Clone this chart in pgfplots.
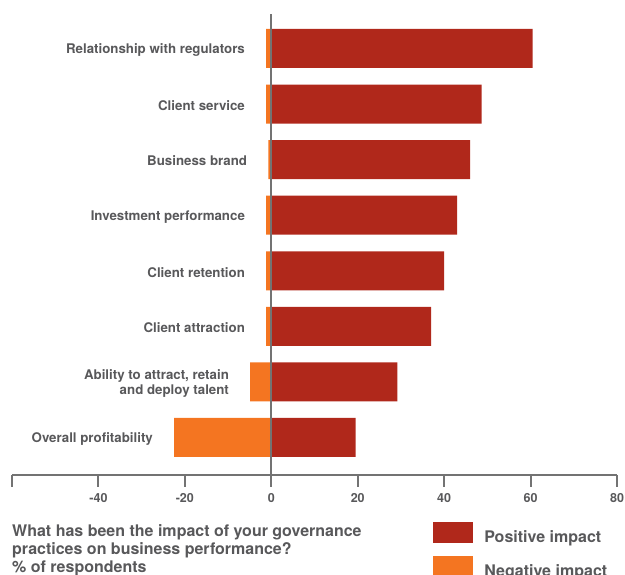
\documentclass[border=0pt]{standalone}
\usepackage{pgfplots}
\pgfplotsset{compat=1.18}
\usepackage{fontspec}
\setmainfont{TeX Gyre Heros}
\definecolor{posred}{RGB}{176,40,27}
\definecolor{negorange}{RGB}{244,117,33}
\definecolor{textgray}{RGB}{88,88,90}
\definecolor{axisgray}{RGB}{115,115,115}
\pgfplotsset{sqlegend/.style={legend image code/.code={\fill[##1] (0pt,-6pt) rectangle (40pt,15pt);}}}
\begin{document}
\begin{tikzpicture}[x=1pt,y=1pt]
\begin{axis}[
  at={(12pt,100pt)}, anchor=south west,
  scale only axis, width=605pt, height=461pt,
  xmin=-60, xmax=80, ymin=-0.675, ymax=7.62,
  axis x line*=bottom, axis y line=none,
  x axis line style={draw=axisgray, line width=2pt},
  xtick={-60,-40,...,80},
  xticklabels={,-40,-20,0,20,40,60,80},
  x tick style={draw=axisgray, line width=2pt},
  tick align=outside, major tick length=12pt,
  xticklabel style={font=\fontsize{12.5}{12.5}\selectfont\bfseries, text=textgray, yshift=-3pt},
  /pgf/number format/assume math mode=true,
  ytick=\empty,
  clip=false,
  legend style={at={(0.696,-0.102)}, anchor=north west, draw=none, fill=none,
    inner sep=0pt, row sep=10pt, font=\fontsize{16}{16}\selectfont\bfseries, text=textgray,
    /tikz/every odd column/.style={column sep=9pt}},
  legend cell align=left,
]
\addplot[xbar, fill=posred, draw=none, bar width=39pt, bar shift=0pt, sqlegend]
  coordinates {(19.5,0) (29.2,1) (37,2) (40,3) (43,4) (46,5) (48.7,6) (60.5,7)};
\addlegendentry{Positive impact}
\addplot[xbar, fill=negorange, draw=none, bar width=39pt, bar shift=0pt, sqlegend,
  point meta=explicit symbolic,
  nodes near coords,
  every node near coord/.style={anchor=east, inner sep=0pt, xshift=-21pt, yshift=-1.5pt, align=right,
    font=\fontsize{13.3}{15.5}\selectfont\bfseries, text=textgray}]
  coordinates {(-22.5,0) [Overall profitability] (-4.9,1) [{Ability to attract, retain\\and deploy talent}]
   (-1.2,2) [Client attraction] (-1.2,3) [Client retention] (-1.2,4) [Investment performance]
   (-0.7,5) [Business brand] (-1.2,6) [Client service] (-1.2,7) [Relationship with regulators]};
\addlegendentry{Negative impact}
\addplot[draw=axisgray, line width=2pt, forget plot] coordinates {(0,-0.675) (0,7.62)};
\end{axis}
\node[anchor=north west, align=left, inner sep=0pt, text=textgray,
  font=\fontsize{16}{18.2}\selectfont\bfseries] at (12pt,51pt)
  {What has been the impact of your governance\\practices on business performance?\\\% of respondents};
\pgfresetboundingbox
\path[use as bounding box] (0,0) rectangle (625pt,575pt);
\end{tikzpicture}
\end{document}
